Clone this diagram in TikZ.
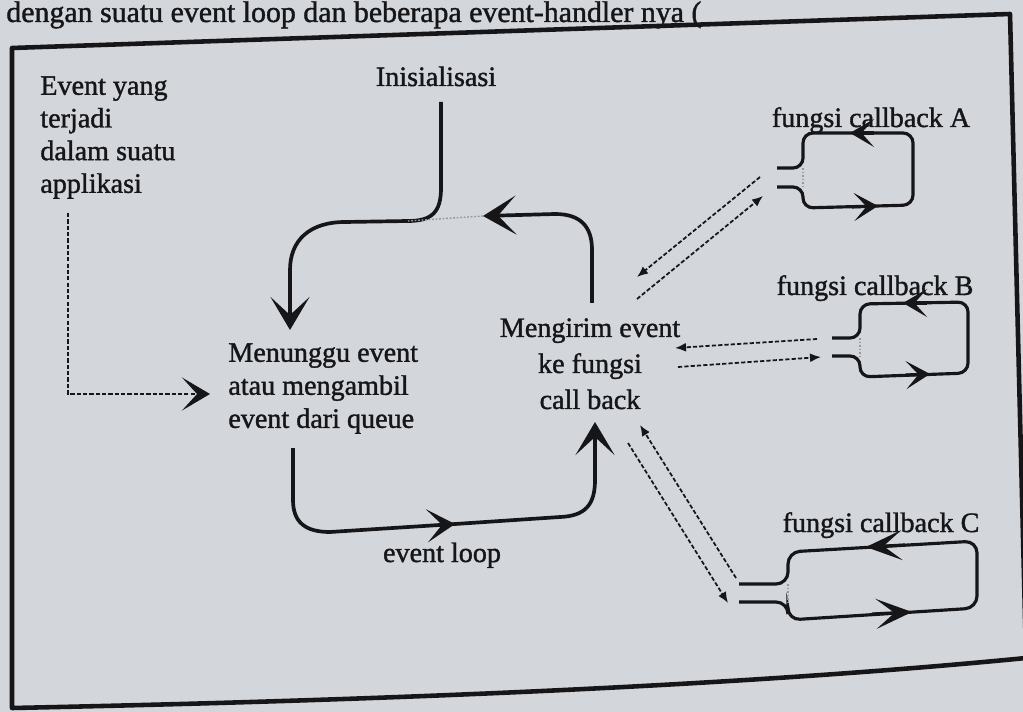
\documentclass[tikz,border=0pt]{standalone}
\usepackage{fontspec}
\setmainfont{Liberation Serif}
\newfontfamily\inkfont{Liberation Serif}[FakeBold=1.3]
\usetikzlibrary{arrows.meta}
\definecolor{bgc}{RGB}{211,214,219}
\definecolor{ink}{RGB}{22,22,24}
\definecolor{faintc}{RGB}{150,152,156}
\begin{document}
\begin{tikzpicture}[x=0.02cm, y=-0.02cm,
  lbl/.style={font=\inkfont\fontsize{16}{19}\selectfont, inner sep=0pt, text=ink},
  hdr/.style={font=\inkfont\fontsize{17}{21}\selectfont, inner sep=0pt, text=ink},
  frame/.style={draw=ink, line width=2.6pt, line join=round},
  mainline/.style={draw=ink, line width=2.1pt},
  bigtip/.style={-{Stealth[length=0.66cm,width=0.78cm,inset=0.36cm]}},
  midtip/.style={-{Stealth[length=0.56cm,width=0.66cm,inset=0.3cm]}},
  boxline/.style={draw=ink, line width=1.8pt, rounded corners=0.2cm},
  boxtip/.style={-{Stealth[length=0.48cm,width=0.56cm,inset=0.25cm]}},
  boxtipC/.style={-{Stealth[length=0.72cm,width=0.6cm,inset=0.37cm]}},
  dotline/.style={draw=ink, line width=1pt, dash pattern=on 2.4pt off 1.2pt},
  dottip/.style={-{Latex[length=0.22cm,width=0.18cm]}},
  faint/.style={draw=faintc, line width=0.8pt, dash pattern=on 1pt off 1pt}
]
\useasboundingbox (0,0) rectangle (1023,712);
\clip (0,0) rectangle (1023,712);
\fill[bgc] (0,0) rectangle (1023,712);

% header line of the page
\node[hdr, anchor=base west] (hdr) at (6,22) {dengan suatu event loop dan beberapa event-handler nya (};

% frame
\draw[frame] (12,48) -- (1010,14) -- (1026,658) .. controls (750,685) and (400,700) .. (12,708) -- cycle;

% texts
\node[lbl, align=left, anchor=north west, font=\inkfont\fontsize{16}{18.6}\selectfont] (evt) at (40,76) {Event yang\\terjadi\\dalam suatu\\applikasi};
\node[lbl, anchor=base] (init) at (436,86) {Inisialisasi};
\node[lbl, align=left, anchor=north west, font=\inkfont\fontsize{16}{18.8}\selectfont] (wait) at (228,343) {Menunggu event\\atau mengambil\\event dari queue};
\node[lbl, align=center, anchor=north, font=\inkfont\fontsize{16}{20.5}\selectfont] (send) at (590,318) {Mengirim event\\ke fungsi\\call back};
\node[lbl, anchor=base] (loop) at (442,562) {event loop};
\node[lbl, anchor=base] (la) at (871,127) {fungsi callback A};
\node[lbl, anchor=base] (lb) at (875,295) {fungsi callback B};
\node[lbl, anchor=base] (lc) at (881,532) {fungsi callback C};

% named points
\coordinate (initS) at (441,102);
\coordinate (waitN) at (290,330);
\coordinate (sendN) at (592,303);
\coordinate (retTip) at (483,216);
\coordinate (join) at (408,221);
\coordinate (waitS) at (293,448);
\coordinate (loopMid) at (455,524);
\coordinate (sendS) at (595,422);
\coordinate (evtS) at (68,213);
\coordinate (waitW) at (210,394);

% main loop
\draw[mainline, bigtip] (initS) -- (441,188) .. controls (441,212) and (432,221) .. (join) -- (345,222) .. controls (310,222) and (290,240) .. (290,270) -- (waitN);
\draw[mainline, bigtip] (sendN) -- (592,250) .. controls (592,226) and (580,214) .. (555,214) -- (retTip);
\draw[faint] (retTip) -- (join);
\draw[mainline, midtip] (waitS) -- (293,500) .. controls (293,522) and (305,532) .. (330,532) -- (loopMid);
\draw[mainline, bigtip] (440,525) -- (560,517) .. controls (585,516) and (595,505) .. (595,480) -- (sendS);

% external event
\draw[dotline, midtip] (evtS) -- (68,394) -- (waitW);

% callback A
\coordinate (a1) at (777,168);
\coordinate (a2) at (777,187);
\draw[boxline] (a1) -- (803,168) -- (803,133) -- (913,133) -- (913,205) -- (803,208) -- (803,187) -- (a2);
\draw[faint] (803,168) -- (803,187);
\draw[mainline, line width=1.8pt, boxtip] (874,133) -- (850,133);
\draw[mainline, line width=1.8pt, boxtip] (852,207) -- (878,206);
\coordinate (a1s) at (760,177);
\coordinate (a1e) at (637,277);
\coordinate (a2s) at (637,299);
\coordinate (a2e) at (763,196);
\draw[dotline, dottip] (a1s) -- (a1e);
\draw[dotline, dottip] (a2s) -- (a2e);

% callback B
\coordinate (b1) at (832,338);
\coordinate (b2) at (832,356);
\draw[boxline] (b1) -- (860,338) -- (860,304) -- (968,302) -- (968,373) -- (860,377) -- (860,356) -- (b2);
\draw[faint] (860,338) -- (860,356);
\draw[mainline, line width=1.8pt, boxtip] (927,303) -- (903,303);
\draw[mainline, line width=1.8pt, boxtip] (906,375) -- (930,374);
\coordinate (b1s) at (817,339);
\coordinate (b1e) at (675,348);
\coordinate (b2s) at (678,367);
\coordinate (b2e) at (821,357);
\draw[dotline, dottip] (b1s) -- (b1e);
\draw[dotline, dottip] (b2s) -- (b2e);

% callback C
\coordinate (c1) at (739,584);
\coordinate (c2) at (739,602);
\draw[boxline, rounded corners=0.24cm] (c1) -- (788,584) -- (788,552) -- (977,541) -- (977,608) -- (788,620) -- (788,602) -- (c2);
\draw[faint] (788,584) -- (788,602);
\draw[mainline, line width=1.8pt, boxtipC] (905,545) -- (866,547);
\draw[mainline, line width=1.8pt, boxtipC] (872,614) -- (912,612);
\coordinate (c1s) at (736,578);
\coordinate (c1e) at (640,425);
\coordinate (c2s) at (628,443);
\coordinate (c2e) at (728,603);
\draw[dotline, dottip] (c1s) -- (c1e);
\draw[dotline, dottip] (c2s) -- (c2e);
\end{tikzpicture}
\end{document}
